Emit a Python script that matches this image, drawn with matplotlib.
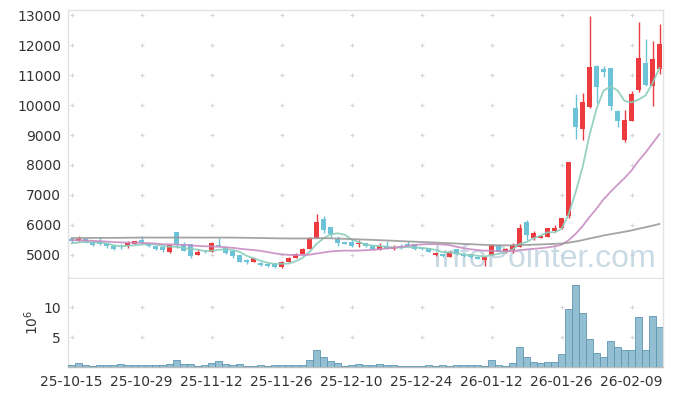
import numpy as np
import pandas as pd
import matplotlib
matplotlib.use("Agg")
import matplotlib.pyplot as plt

plt.rcParams['font.family'] = ['Liberation Sans Narrow', 'DejaVu Sans']

# ---- data -------------------------------------------------------------
holidays = ['2025-12-25', '2025-12-31', '2026-01-01']
dates = [d for d in pd.bdate_range('2025-10-15', '2026-02-13')
         if d.strftime('%Y-%m-%d') not in holidays]

opens = [5540, 5480, 5530, 5430, 5460, 5390, 5310, 5300, 5290, 5380,
         5510, 5390, 5300, 5250, 5090, 5770, 5350, 5360, 5010, 5110,
         5110, 5330, 5280, 5140, 5000, 4840, 4760, 4720, 4710, 4690,
         4590, 4760, 4910, 5040, 5200, 5580, 6200, 5930, 5530, 5430,
         5420, 5370, 5390, 5300, 5180, 5310, 5190, 5300, 5370, 5360,
         5230, 5220, 4990, 5020, 4940, 5190, 5040, 5020, 4920, 4840,
         5000, 5310, 5130, 5140, 5280, 6110, 5560, 5580, 5610, 5790,
         5890, 6310, 9910, 9210, 9920, 11300, 11200, 11230, 9800, 8820,
         9480, 10500, 11410, 10630, 11190]
highs = [5570, 5640, 5570, 5450, 5590, 5410, 5320, 5380, 5450, 5480,
         5630, 5400, 5310, 5260, 5350, 5780, 5440, 5380, 5200, 5180,
         5440, 5560, 5300, 5150, 5010, 4850, 4900, 4760, 4730, 4700,
         4800, 4930, 5060, 5220, 5600, 6360, 6310, 5940, 5630, 5440,
         5540, 5490, 5400, 5320, 5400, 5450, 5320, 5350, 5460, 5380,
         5240, 5240, 5070, 5030, 5120, 5200, 5060, 5040, 4940, 4960,
         5350, 5330, 5230, 5390, 6030, 6150, 5800, 5660, 5910, 6000,
         6240, 8100, 10370, 10390, 12970, 11320, 11300, 11250, 9820, 9830,
         10480, 12770, 12200, 12120, 12700]
lows = [5400, 5460, 5400, 5290, 5340, 5230, 5180, 5200, 5230, 5370,
        5380, 5280, 5180, 5110, 5080, 5240, 5120, 4890, 5000, 5060,
        5100, 5290, 5040, 4910, 4770, 4690, 4750, 4630, 4610, 4570,
        4570, 4750, 4900, 5030, 5190, 5560, 5720, 5580, 5310, 5350,
        5270, 5280, 5270, 5180, 5170, 5190, 5150, 5200, 5290, 5180,
        5170, 5100, 4980, 4930, 4930, 5010, 4930, 4900, 4850, 4640,
        4990, 5090, 5060, 5060, 5250, 5500, 5500, 5550, 5590, 5750,
        5880, 6220, 8870, 8830, 9900, 10060, 10920, 9830, 9280, 8760,
        9460, 10450, 10640, 9980, 11030]
closes = [5450, 5540, 5430, 5320, 5370, 5290, 5200, 5280, 5390, 5460,
          5400, 5310, 5190, 5160, 5330, 5370, 5140, 4980, 5090, 5090,
          5410, 5300, 5060, 4980, 4780, 4750, 4890, 4650, 4630, 4590,
          4780, 4910, 5040, 5200, 5580, 6110, 5840, 5690, 5390, 5370,
          5310, 5400, 5290, 5200, 5300, 5200, 5280, 5250, 5310, 5190,
          5190, 5110, 5060, 4950, 5110, 5030, 4950, 4930, 4870, 4940,
          5330, 5110, 5190, 5330, 5890, 5650, 5720, 5630, 5890, 5890,
          6220, 8090, 9280, 10100, 11280, 10610, 11110, 9970, 9480, 9500,
          10370, 11570, 10670, 11530, 12040]
# volume, millions of shares
volumes = [0.3, 0.6, 0.3, 0.1, 0.4, 0.3, 0.3, 0.45, 0.3, 0.3,
           0.4, 0.3, 0.3, 0.3, 0.45, 1.1, 0.45, 0.45, 0.1, 0.3,
           0.75, 0.95, 0.45, 0.3, 0.45, 0.1, 0.1, 0.3, 0.1, 0.3,
           0.3, 0.3, 0.3, 0.3, 1.1, 2.9, 1.6, 0.95, 0.6, 0.1,
           0.3, 0.45, 0.3, 0.3, 0.45, 0.3, 0.3, 0.1, 0.1, 0.1,
           0.1, 0.3, 0.1, 0.3, 0.1, 0.3, 0.3, 0.3, 0.3, 0.1,
           1.1, 0.4, 0.1, 0.6, 3.4, 1.7, 0.9, 0.75, 0.9, 0.9,
           2.1, 9.7, 13.6, 9.0, 4.6, 2.4, 1.7, 4.3, 3.3, 2.8,
           2.9, 8.3, 2.8, 8.5, 6.6]
# closes of the 119 sessions before the first shown day (feed the moving averages)
prior_closes = [
    5100, 5150, 5200, 5250, 5200, 5150, 5100, 5050, 5100, 5150,
    5200, 5250, 5300, 5250, 5200, 5150, 5100, 5150, 5200, 5250,
    5200, 5150, 5100, 5150, 5200, 5250, 5200, 5150, 5100, 5150,
    5200, 5200, 5150, 5200, 5200,
    6000, 6150, 6300, 6450, 6500, 6400, 6300, 6250, 6350, 6450,
    6550, 6600, 6500, 6400, 6300, 6250, 6200, 6300, 6400, 6350,
    6250, 6150, 6200, 6300, 6250,
    5800, 5500, 5200, 5000, 4900, 4800, 4750, 4700, 4750, 4800,
    4700, 4650, 4700, 4750, 4800, 4850, 4750, 4700, 4750, 4800,
    4850, 4900, 5000, 5200,
    5800, 6000, 6200, 6500, 6800, 7000, 6900, 6700, 6500, 6300,
    6200, 6100, 6000, 5950, 5900, 5850,
    5600, 5580, 5560, 5550, 5540, 5530, 5530, 5520, 5520, 5510,
    5510, 5500, 5500, 5500, 5450, 5400, 5350, 5380, 5370]
ma_windows = [5, 20, 120]
price_ticks = [5000, 6000, 7000, 8000, 9000, 10000, 11000, 12000, 13000]
vol_ticks = [5, 10]

# ---- figure -----------------------------------------------------------
W, H = 673, 396
fig = plt.figure(figsize=(W / 100, H / 100), dpi=100)
axp = fig.add_axes([68 / W, 1 - 278 / H, 595 / W, 268 / H])
axv = fig.add_axes([68 / W, 1 - 367 / H, 595 / W, 88 / H])

n = len(closes)
x = np.arange(n)
o = np.array(opens); c = np.array(closes); hi = np.array(highs); lo = np.array(lows)
up = c >= o
RED, BLUE = '#ec3a3f', '#6cc3d8'
cols = np.where(up, RED, BLUE)

axp.vlines(x, lo, hi, colors=cols, linewidth=1.0, zorder=2)
body_h = np.maximum(np.abs(c - o), 20)
axp.bar(x, body_h, bottom=np.minimum(o, c), width=0.72, color=cols,
        linewidth=0, zorder=3)

allc = pd.Series(list(prior_closes) + list(closes), dtype=float)
ma_cols = {5: '#8acdbc', 20: '#c98dc4', 120: '#9a9a9a'}
for w in ma_windows:
    ma = allc.rolling(w).mean().values[-n:]
    axp.plot(x, ma, color=ma_cols[w], linewidth=1.3, alpha=0.9, zorder=4)

axp.set_xlim(-0.5, n - 0.5)
axp.set_ylim(4233, 13167)
axp.set_yticks(price_ticks)
axp.set_yticklabels([str(t) for t in price_ticks])
axp.set_xticks([])

tick_idx = list(range(0, n, 10))
gx, gy = np.meshgrid(tick_idx, price_ticks)
axp.scatter(gx.ravel(), gy.ravel(), marker='+', s=12, color='#d6d6d6',
            linewidths=0.8, zorder=1)

axp.text(0.988, 0.015, 'InfoPointer.com', transform=axp.transAxes,
         ha='right', va='bottom', fontsize=23, color='#bcd1de', alpha=0.8,
         family=['Liberation Sans', 'DejaVu Sans'], zorder=1.5)

axv.bar(x, volumes, width=0.95, color='#94bfd2', edgecolor='#5f97b0',
        linewidth=0.6, zorder=3)
axv.set_xlim(-0.5, n - 0.5)
axv.set_ylim(0, 14.67)
axv.set_yticks(vol_ticks)
axv.set_yticklabels([str(t) for t in vol_ticks])
axv.set_xticks(tick_idx)
axv.set_xticklabels([dates[i].strftime('%y-%m-%d') for i in tick_idx])
gx2, gy2 = np.meshgrid(tick_idx, vol_ticks)
axv.scatter(gx2.ravel(), gy2.ravel(), marker='+', s=12, color='#d6d6d6',
            linewidths=0.8, zorder=1)
fig.text(32 / W, 1 - 322 / H, r'$10^6$', rotation=90, ha='center',
         va='center', fontsize=10, color='#333333')

for ax in (axp, axv):
    ax.tick_params(length=0, labelsize=10, colors='#333333', pad=5)
    for s in ax.spines.values():
        s.set_color('#e2e2e2')
        s.set_linewidth(1.0)
axv.spines['bottom'].set_color('#bdbdbd')
axv.spines['top'].set_visible(False)
axv.tick_params(axis='x', pad=6)

fig.savefig('out.png', dpi=100)
